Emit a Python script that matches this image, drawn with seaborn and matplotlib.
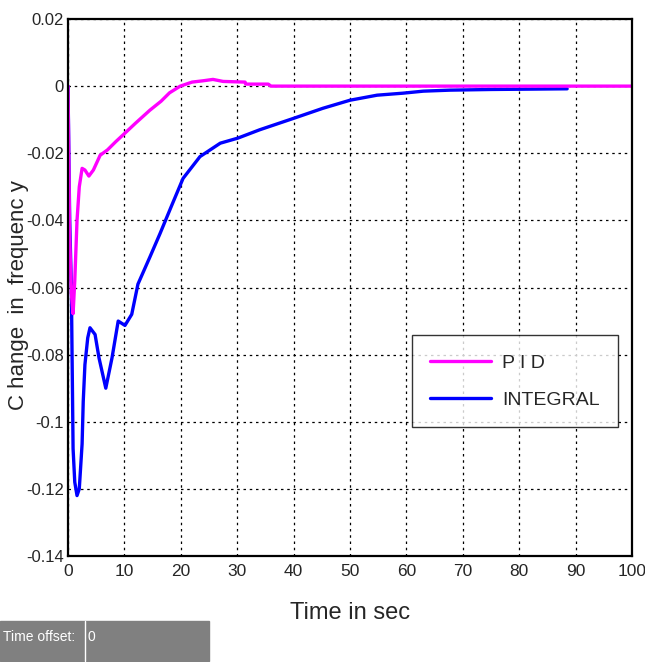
import numpy as np
import pandas as pd
import matplotlib.pyplot as plt
import seaborn as sns
from matplotlib.patches import Rectangle

# PID response, values
pid_t = [0, 0.3, 0.6, 0.9, 1.2, 1.6, 2.0, 2.5, 3.0, 3.7, 4.5, 5.7, 7.0, 8.5, 10.1,
         12.0, 14.5, 16.5, 18.0, 19.9, 22.0, 24.0, 25.7, 27.5, 31.4, 31.5, 35.5, 36.0, 50, 70, 100]
pid_y = [0, -0.045, -0.062, -0.0678, -0.058, -0.040, -0.030, -0.0245, -0.025, -0.0268, -0.025,
         -0.0206, -0.019, -0.0165, -0.014, -0.011, -0.0072, -0.0045, -0.002, 0.0, 0.0012, 0.0016,
         0.002, 0.0014, 0.0012, 0.0006, 0.0006, 0.0, 0.0, 0.0, 0.0]

# INTEGRAL response
int_t = [0, 0.3, 0.6, 0.7, 0.8, 0.9, 1.2, 1.6, 2.0, 2.5, 2.7, 3.0, 3.5, 3.9, 4.8, 5.5, 6.7,
         7.8, 8.9, 10.1, 11.3, 12.4, 14.5, 16.3, 18.4, 20.4, 23.4, 27.0, 30.1, 34.0, 40.0,
         45.2, 50.0, 54.8, 59.4, 63.0, 67.7, 75.0, 88.5]
int_y = [0, -0.040, -0.060, -0.077, -0.092, -0.108, -0.118, -0.122, -0.120, -0.1066, -0.094,
         -0.083, -0.075, -0.072, -0.074, -0.081, -0.090, -0.081, -0.070, -0.0713, -0.068, -0.059,
         -0.051, -0.044, -0.0355, -0.0275, -0.021, -0.017, -0.0155, -0.013, -0.0096, -0.0066,
         -0.0042, -0.0027, -0.0021, -0.0015, -0.0012, -0.001, -0.0008]

x_ticks = [0, 10, 20, 30, 40, 50, 60, 70, 80, 90, 100]
y_ticks = [0.02, 0, -0.02, -0.04, -0.06, -0.08, -0.1, -0.12, -0.14]
y_tick_labels = ['0.02', '0', '-0.02', '-0.04', '-0.06', '-0.08', '-0.1', '-0.12', '-0.14']

df = pd.concat([
    pd.DataFrame({'t': int_t, 'f': int_y, 'ctrl': 'INTEGRAL'}),
    pd.DataFrame({'t': pid_t, 'f': pid_y, 'ctrl': 'PID'}),
])

sns.set_style('white')
plt.rcParams['font.family'] = ['Liberation Sans', 'DejaVu Sans']

fig = plt.figure(figsize=(6.45, 6.62), dpi=100)
ax = fig.add_axes([68 / 645, 1 - 556 / 662, (632 - 68) / 645, (556 - 19) / 662])

sns.lineplot(data=df, x='t', y='f', hue='ctrl', hue_order=['INTEGRAL', 'PID'],
             palette={'PID': '#ff00ff', 'INTEGRAL': '#0000ff'}, linewidth=2.4,
             sort=False, estimator=None, ax=ax, legend=False)

ax.set_xlim(0, 100)
ax.set_ylim(-0.14, 0.02)
ax.set_xticks(x_ticks)
ax.set_yticks(y_ticks)
ax.set_yticklabels(y_tick_labels)
ax.tick_params(labelsize=12, length=3, direction='in', color='black', pad=3)
ax.tick_params(axis='x', labelsize=12.5, pad=6)
ax.grid(True, color='black', linestyle=(0, (2, 3)), linewidth=0.9)
for s in ax.spines.values():
    s.set_color('black')
    s.set_linewidth(1.6)

ax.set_xlabel('Time in sec', fontsize=17, labelpad=16)
ax.set_ylabel('C hange  in  frequenc y', fontsize=16)
ax.yaxis.set_label_coords(-0.07, 0.486)

# legend drawn by hand to get the boxed MATLAB look
h1, = ax.plot([], [], color='#ff00ff', lw=2.4, label='P I D')
h2, = ax.plot([], [], color='#0000ff', lw=2.4, label='INTEGRAL')
leg = ax.legend(handles=[h1, h2], loc='lower right', bbox_to_anchor=(0.993, 0.222),
                fontsize=14, frameon=True, fancybox=False, handlelength=3.1,
                borderpad=0.95, labelspacing=1.0, handletextpad=0.6)
leg.get_frame().set_edgecolor('black')
leg.get_frame().set_linewidth(1.0)

# "Time offset" bar at bottom left
fig.patches.append(Rectangle((0, 1 - 661 / 662), 209 / 645, 40 / 662,
                             transform=fig.transFigure, color='#808080'))
fig.lines.append(plt.Line2D([85 / 645, 85 / 645], [1 - 661 / 662, 1 - 621 / 662],
                            transform=fig.transFigure, color='white', lw=1))
fig.text(3 / 645, 1 - 637 / 662, 'Time offset:', color='white', fontsize=10, va='center')
fig.text(88 / 645, 1 - 637 / 662, '0', color='white', fontsize=10, va='center')

fig.savefig('out.png', dpi=100)
